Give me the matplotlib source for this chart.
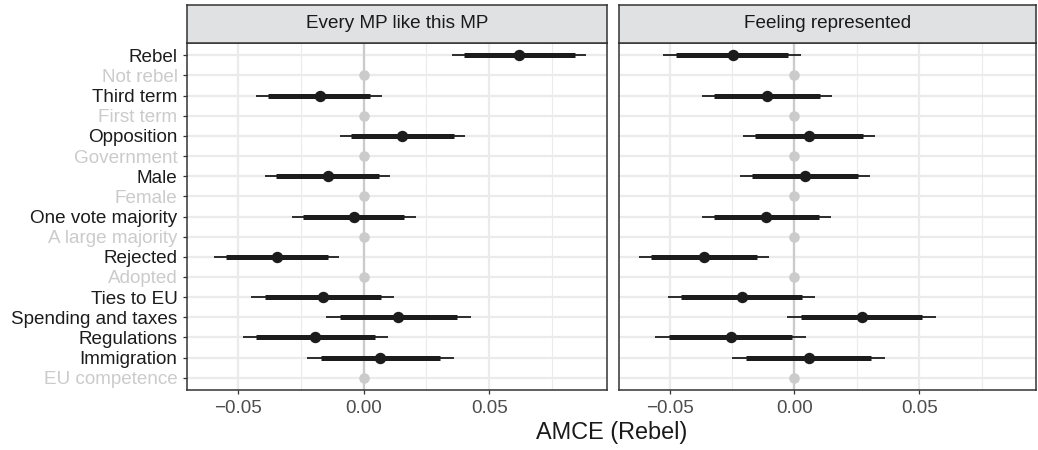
import matplotlib
matplotlib.use("Agg")
import matplotlib.pyplot as plt
import numpy as np
from matplotlib.ticker import MultipleLocator, FixedLocator

plt.rcParams['font.family'] = ['Liberation Sans', 'DejaVu Sans']

# ---------------- data ----------------
levels = ["Rebel", "Not rebel", "Third term", "First term", "Opposition",
          "Government", "Male", "Female", "One vote majority",
          "A large majority", "Rejected", "Adopted", "Ties to EU",
          "Spending and taxes", "Regulations", "Immigration", "EU competence"]
is_reference = [False, True, False, True, False, True, False, True, False,
                True, False, True, False, False, False, False, True]

panel_titles = ["Every MP like this MP", "Feeling represented"]

# estimated (non-reference) levels in order of appearance
left_est  = [0.0619, -0.0175, 0.0154, -0.0143, -0.0040, -0.0345, -0.0160, 0.0138, -0.0193, 0.0067]
left_lo95 = [0.0352, -0.0427, -0.0094, -0.0392, -0.0286, -0.0595, -0.0446, -0.0148, -0.0480, -0.0224]
left_hi95 = [0.0886, 0.0073, 0.0405, 0.0106, 0.0208, -0.0097, 0.0123, 0.0426, 0.0097, 0.0360]
left_lo90 = [0.0400, -0.0382, -0.0049, -0.0347, -0.0241, -0.0549, -0.0392, -0.0095, -0.0427, -0.0169]
left_hi90 = [0.0840, 0.0027, 0.0358, 0.0060, 0.0161, -0.0143, 0.0070, 0.0373, 0.0044, 0.0306]

right_est  = [-0.0247, -0.0108, 0.0060, 0.0044, -0.0115, -0.0360, -0.0210, 0.0269, -0.0255, 0.0057]
right_lo95 = [-0.0525, -0.0369, -0.0204, -0.0217, -0.0369, -0.0622, -0.0508, -0.0030, -0.0558, -0.0249]
right_hi95 = [0.0025, 0.0152, 0.0321, 0.0303, 0.0146, -0.0102, 0.0083, 0.0565, 0.0046, 0.0362]
right_lo90 = [-0.0474, -0.0321, -0.0156, -0.0169, -0.0320, -0.0575, -0.0454, 0.0025, -0.0503, -0.0193]
right_hi90 = [-0.0026, 0.0103, 0.0274, 0.0254, 0.0099, -0.0148, 0.0030, 0.0509, -0.0008, 0.0307]

x_ticks = [-0.05, 0.0, 0.05]
x_tick_labels = ["\u22120.05", "0.00", "0.05"]
x_label = "AMCE (Rebel)"

panels = [
    (left_est, left_lo95, left_hi95, left_lo90, left_hi90),
    (right_est, right_lo95, right_hi95, right_lo90, right_hi90),
]

# ---------------- style ----------------
W, H = 1038, 450
fig = plt.figure(figsize=(W / 100, H / 100), dpi=100)

DARK = "#1c1c1c"
REFGREY = "#cbcbcb"
GRID = "#ebebeb"
FRAME = "#333333"
STRIP = "#e0e1e3"
FS = 13.6

ax_lefts = [187.3, 619.3]
ax_rights = [606.7, 1036.0]
ax_top, ax_bot = 43.0, 390.0
strip_top = 4.7

ypos = np.arange(len(levels))
est_idx = [i for i, r in enumerate(is_reference) if not r]
ref_idx = [i for i, r in enumerate(is_reference) if r]

for p, (est, lo95, hi95, lo90, hi90) in enumerate(panels):
    l, r = ax_lefts[p], ax_rights[p]
    ax = fig.add_axes([l / W, 1 - ax_bot / H, (r - l) / W, (ax_bot - ax_top) / H])
    ax.set_xlim(-0.0701, 0.0967)
    ax.set_ylim(len(levels) - 1 + 0.61, -0.61)
    ax.set_facecolor("white")

    # grid
    ax.xaxis.set_major_locator(FixedLocator(x_ticks))
    ax.xaxis.set_minor_locator(FixedLocator([-0.075, -0.025, 0.025, 0.075]))
    ax.set_yticks(ypos)
    ax.grid(True, which="major", axis="both", color=GRID, lw=1.6, zorder=0)
    ax.grid(True, which="minor", axis="x", color=GRID, lw=0.8, zorder=0)
    ax.set_axisbelow(True)

    ax.axvline(0, color=REFGREY, lw=1.6, zorder=1)

    # reference levels
    ax.plot([0] * len(ref_idx), ref_idx, "o", color=REFGREY, ms=7.6,
            mec="none", zorder=2)

    est_y = np.array(est_idx)
    ax.hlines(est_y, lo95, hi95, color=DARK, lw=1.3, zorder=3)
    ax.hlines(est_y, lo90, hi90, color=DARK, lw=3.6, zorder=4)
    ax.plot(est, est_y, "o", color=DARK, ms=8.2, mec="none", zorder=5)

    for s in ax.spines.values():
        s.set_color(FRAME)
        s.set_linewidth(1.1)

    ax.tick_params(axis="both", which="major", length=3, width=0.9,
                   color=FRAME, labelsize=FS, labelcolor="#4d4d4d")
    ax.tick_params(axis="x", which="minor", length=0)
    ax.tick_params(axis="x", pad=4)
    ax.tick_params(axis="y", pad=4)
    ax.set_xticklabels(x_tick_labels)
    if p == 0:
        ax.set_yticklabels(levels)
        for lab, ref in zip(ax.get_yticklabels(), is_reference):
            lab.set_color(REFGREY if ref else DARK)
    else:
        ax.set_yticklabels([])
        ax.tick_params(axis="y", length=0)

    # strip
    sax = fig.add_axes([l / W, 1 - ax_top / H, (r - l) / W, (ax_top - strip_top) / H])
    sax.set_facecolor(STRIP)
    sax.set_xticks([])
    sax.set_yticks([])
    for s in sax.spines.values():
        s.set_color(FRAME)
        s.set_linewidth(1.1)
    sax.text(0.5, 0.5, panel_titles[p], ha="center", va="center",
             fontsize=FS, color="#1a1a1a", transform=sax.transAxes)

fig.text(((ax_lefts[0] + ax_rights[1]) / 2) / W, 1 - 433 / H, x_label,
         ha="center", va="center", fontsize=16.9, color="#1a1a1a")

fig.savefig("out.png", dpi=100)
